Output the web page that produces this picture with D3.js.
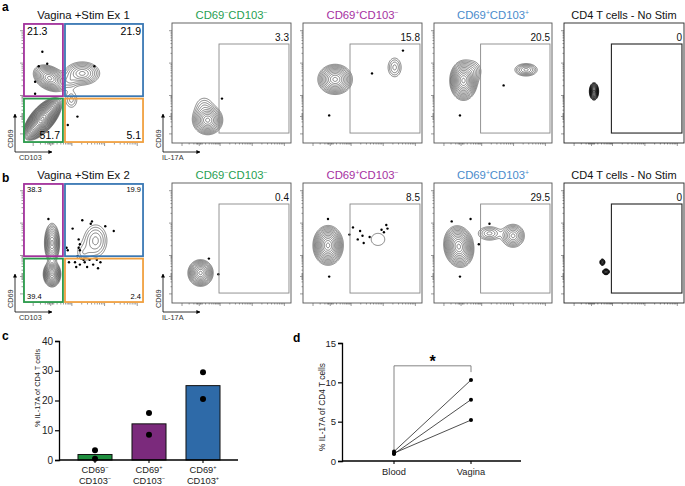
<!DOCTYPE html>
<html><head><meta charset="utf-8">
<script src="https://cdn.jsdelivr.net/npm/d3@7"></script>
<style>body{margin:0;background:#fff} svg{font-family:"Liberation Sans",Arial,sans-serif}</style>
</head><body>
<svg id="fig" width="685" height="486"></svg>
<script>
// ===================== DATA =====================
const rowTitles = ["Vagina +Stim Ex 1", "Vagina +Stim Ex 2"];
const subsetTitles = [
  [["CD69",0],["−",1],["CD103",0],["−",1]],
  [["CD69",0],["+",1],["CD103",0],["−",1]],
  [["CD69",0],["+",1],["CD103",0],["+",1]],
  [["CD4 T cells - No Stim",0]]
];
const quadA = ["21.3", "21.9", "51.7", "5.1"];
const quadB = ["38.3", "19.9", "39.4", "2.4"];
const gateA = ["3.3", "15.8", "20.5", "0"];
const gateB = ["0.4", "8.5", "29.5", "0"];

// contour blobs: [cx, cy, rx, ry, angleDeg, levels]  (normalized plot units)
const a1Blobs = [[0.16,0.20,0.22,0.10,50,20],[0.22,0.54,0.10,0.15,60,11],[0.49,0.58,0.15,0.10,0,8],[0.39,0.52,0.05,0.05,0,3],[0.40,0.36,0.05,0.07,0,3]];
const a2Blobs = [[0.30,0.19,0.125,0.13,90,11],[0.27,0.30,0.07,0.08,0,3]];
const a3Blobs = [[0.27,0.53,0.13,0.15,90,11],[0.77,0.63,0.06,0.085,0,4]];
const a4Blobs = [[0.25,0.52,0.12,0.17,0,13],[0.33,0.60,0.07,0.08,0,4],[0.78,0.61,0.10,0.055,0,6]];
const a5Blobs = [[0.25,0.43,0.04,0.075,0,9]];
const b1Blobs = [[0.24,0.50,0.065,0.17,0,10],[0.24,0.24,0.075,0.11,0,12],[0.60,0.52,0.10,0.14,0,5],[0.50,0.42,0.05,0.06,0,2]];
const b2Blobs = [[0.24,0.25,0.11,0.115,0,11]];
const b3Blobs = [[0.21,0.48,0.13,0.17,0,13],[0.63,0.53,0.09,0.08,0,1]];
const b4Blobs = [[0.21,0.47,0.13,0.18,10,13],[0.47,0.58,0.10,0.06,0,5],[0.67,0.56,0.10,0.10,0,8]];
const b5Blobs = [[0.32,0.34,0.022,0.028,0,6],[0.35,0.26,0.03,0.025,0,7]];

// outlier events: [x, y]
const a1Dots = [[0.16,0.76],[0.13,0.64],[0.20,0.66],[0.10,0.51],[0.10,0.41],[0.59,0.64],[0.45,0.22],[0.37,0.15]];
const a2Dots = [[0.42,0.37]];
const a3Dots = [[0.58,0.58],[0.84,0.77],[0.22,0.23]];
const a4Dots = [[0.22,0.23],[0.59,0.48]];
const a5Dots = [];
const b1Dots = [[0.21,0.70],[0.41,0.62],[0.49,0.69],[0.57,0.68],[0.56,0.66],[0.68,0.64],[0.75,0.60],[0.46,0.53],[0.47,0.49],[0.46,0.46],[0.47,0.44],[0.36,0.46],[0.37,0.44],[0.45,0.39],[0.48,0.37],[0.38,0.34],[0.43,0.34],[0.50,0.36],[0.55,0.36],[0.61,0.36],[0.53,0.30],[0.58,0.32],[0.47,0.32],[0.44,0.30],[0.62,0.29],[0.64,0.34],[0.51,0.34]];
const b2Dots = [[0.31,0.37],[0.39,0.24]];
const b3Dots = [[0.21,0.70],[0.22,0.22],[0.42,0.63],[0.39,0.57],[0.46,0.53],[0.48,0.60],[0.50,0.56],[0.51,0.50],[0.56,0.55],[0.66,0.61],[0.70,0.65],[0.71,0.62],[0.68,0.59]];
const b4Dots = [[0.15,0.68],[0.31,0.70],[0.47,0.66],[0.38,0.49],[0.22,0.22]];
const b5Dots = [];

const flowMajorTicks = [0.08, 0.225, 0.40, 0.67, 0.94];

// panel c
const cCategories = ["CD69−CD103−", "CD69+CD103−", "CD69+CD103+"];
const cLabelLines = [[["CD69","−"],["CD103","−"]],[["CD69","+"],["CD103","−"]],[["CD69","+"],["CD103","+"]]];
const cMeans = [1.85, 12.15, 25.0];
const cPoints = [[3.3, 0.4], [15.8, 8.5], [20.5, 29.5]];
const cTicks = [0, 10, 20, 30, 40];

// panel d
const dGroups = ["Blood", "Vagina"];
const dBlood = [1.2, 0.9, 1.0];
const dVagina = [10.3, 7.8, 5.2];
const dTicks = [0, 5, 10, 15];
const dBracket = [1.3, 12.1, 11.3]; // left leg bottom, top, right leg bottom

// ===================== LAYOUT / STYLE =====================
const svg = d3.select("#fig");
const colX = [23, 172, 303, 434, 564];
const colW = [121, 119, 119, 118, 120];
const rowY = [23, 183];
const rowH = 120;
const subsetColors = ["#27a052", "#a6309f", "#4a8bcb", "#111"];
const quadColors = ["#a2329c", "#3a78b4", "#2a9a4a", "#f0a040"];
const barColors = ["#1f8f3f", "#7b2a7c", "#2e6aa8"];
const L = 0.35, RES = 2, PEXP = 1.5;

svg.append("defs").append("marker").attr("id","arr").attr("viewBox","0 0 10 10")
  .attr("refX",9).attr("refY",5).attr("markerWidth",5).attr("markerHeight",5)
  .attr("orient","auto").append("path").attr("d","M0,0L10,5L0,10z").attr("fill","#000");

function dens(blobs, nx, ny) {
  let f = 0;
  for (const [cx, cy, rx, ry, ang, n] of blobs) {
    const a = ang * Math.PI / 180, dx = nx - cx, dy = ny - cy;
    const u = (dx * Math.cos(a) + dy * Math.sin(a)) / rx;
    const v = (-dx * Math.sin(a) + dy * Math.cos(a)) / ry;
    f += Math.exp(L * n * (1 - Math.pow(u * u + v * v, PEXP / 2)));
  }
  return f;
}

function addText(g, parts, x, y, size, color, anchor) {
  const t = g.append("text").attr("x", x).attr("y", y).attr("font-size", size)
    .attr("fill", color).attr("text-anchor", anchor || "middle");
  let prevSup = false;
  parts.forEach(([s, sup]) => {
    const ts = t.append("tspan").text(s);
    if (sup) ts.attr("font-size", size * 0.6).attr("dy", -size * 0.38);
    else if (prevSup) ts.attr("dy", size * 0.38);
    prevSup = !!sup;
  });
  return t;
}

let clipId = 0;
function flowPlot(x0, y0, w, h, blobs, dots, dark) {
  const xs = d3.scaleLinear().domain([0, 1]).range([x0, x0 + w]);
  const ys = d3.scaleLinear().domain([0, 1]).range([y0 + h, y0]);
  const gw = Math.round(w * RES), gh = Math.round(h * RES);
  const vals = new Float64Array(gw * gh);
  for (let j = 0; j < gh; j++) for (let i = 0; i < gw; i++) {
    vals[j * gw + i] = dens(blobs, xs.invert(x0 + (i + 0.5) / RES), ys.invert(y0 + (j + 0.5) / RES));
  }
  const maxV = d3.max(vals);
  const ths = d3.range(0, 80).map(k => Math.exp(L * (k + 0.5))).filter(t => t < maxV);
  const conts = d3.contours().size([gw, gh]).thresholds(ths)(vals);
  const path = d3.geoPath(d3.geoIdentity().scale(1 / RES).translate([x0, y0]));
  const id = "clip" + (clipId++);
  svg.append("clipPath").attr("id", id).append("rect").attr("x", x0).attr("y", y0).attr("width", w).attr("height", h);
  const g = svg.append("g");
  g.append("g").attr("clip-path", `url(#${id})`).selectAll("path").data(conts).join("path")
    .attr("d", path).attr("fill", "none").attr("stroke", dark ? "#000" : "#303030")
    .attr("stroke-width", dark ? 0.9 : 0.6);
  g.selectAll("circle").data(dots).join("circle")
    .attr("cx", d => xs(d[0])).attr("cy", d => ys(d[1])).attr("r", 1.2).attr("fill", "#000");
  // log-like ticks
  const minor = [];
  for (let k = 1; k < flowMajorTicks.length - 1; k++) {
    const a = flowMajorTicks[k], b = flowMajorTicks[k + 1];
    for (let m = 2; m < 10; m++) minor.push(a + (b - a) * Math.log10(m));
  }
  [0.2, 0.21, 0.215, 0.235, 0.24, 0.25, 0.14, 0.18].forEach(v => minor.push(v));
  const tickG = (axis, tr) => {
    const gg = g.append("g").attr("transform", tr).call(axis);
    gg.select(".domain").remove();
    gg.selectAll("line").attr("stroke", "#555").attr("stroke-width", 0.6);
  };
  tickG(d3.axisLeft(ys).tickValues(flowMajorTicks).tickSize(3).tickFormat(""), `translate(${x0},0)`);
  tickG(d3.axisLeft(ys).tickValues(minor).tickSize(1.5).tickFormat(""), `translate(${x0},0)`);
  tickG(d3.axisBottom(xs).tickValues(flowMajorTicks).tickSize(3).tickFormat(""), `translate(0,${y0 + h})`);
  tickG(d3.axisBottom(xs).tickValues(minor).tickSize(1.5).tickFormat(""), `translate(0,${y0 + h})`);
  return { xs, ys, g };
}

const allBlobs = [[a1Blobs, a2Blobs, a3Blobs, a4Blobs, a5Blobs], [b1Blobs, b2Blobs, b3Blobs, b4Blobs, b5Blobs]];
const allDots = [[a1Dots, a2Dots, a3Dots, a4Dots, a5Dots], [b1Dots, b2Dots, b3Dots, b4Dots, b5Dots]];
const quads = [quadA, quadB];
const gates = [gateA, gateB];
const quadRects = [[0.008, 0.39, 0.33, 0.992], [0.347, 0.39, 0.992, 0.992], [0.008, 0.008, 0.33, 0.37], [0.347, 0.008, 0.992, 0.37]];
const gateRect = [0.395, 0.083, 0.983, 0.825];

[0, 1].forEach(r => {
  const y0 = rowY[r];
  svg.append("text").attr("x", 2).attr("y", r === 0 ? 11 : 182).attr("font-size", 12)
    .attr("font-weight", "bold").text(r === 0 ? "a" : "b");
  for (let c = 0; c < 5; c++) {
    const x0 = colX[c], w = colW[c];
    const { xs, ys, g } = flowPlot(x0, y0, w, rowH, allBlobs[r][c], allDots[r][c], c === 4);
    if (c === 0) {
      addText(svg, [[rowTitles[r], 0]], x0 + w / 2, y0 - 4, 11.3, "#111");
      quadRects.forEach((q, i) => {
        g.append("rect").attr("x", xs(q[0])).attr("y", ys(q[3])).attr("width", xs(q[2]) - xs(q[0]))
          .attr("height", ys(q[1]) - ys(q[3])).attr("fill", "none").attr("stroke", quadColors[i]).attr("stroke-width", 1.8);
      });
      const fs = r === 0 ? 10.5 : 7.5;
      const qv = quads[r];
      g.append("text").attr("x", x0 + 4).attr("y", y0 + (r === 0 ? 12 : 9)).attr("font-size", fs).text(qv[0]);
      g.append("text").attr("x", x0 + w - 3).attr("y", y0 + (r === 0 ? 12 : 9)).attr("font-size", fs).attr("text-anchor", "end").text(qv[1]);
      if (r === 0) g.append("text").attr("x", x0 + 37).attr("y", y0 + 116).attr("font-size", fs).attr("text-anchor", "end").text(qv[2]);
      else g.append("text").attr("x", x0 + 4).attr("y", y0 + 116).attr("font-size", fs).text(qv[2]);
      g.append("text").attr("x", x0 + w - 3).attr("y", y0 + 116).attr("font-size", fs).attr("text-anchor", "end").text(qv[3]);
    } else {
      const col = subsetColors[c - 1];
      addText(svg, subsetTitles[c - 1], x0 + w / 2, y0 - 4, c === 4 ? 11 : 11.3, col);
      g.append("rect").attr("x", x0).attr("y", y0).attr("width", w).attr("height", rowH)
        .attr("fill", "none").attr("stroke", c === 4 ? "#222" : "#555").attr("stroke-width", 0.9);
      g.append("rect").attr("x", xs(gateRect[0])).attr("y", ys(gateRect[3]))
        .attr("width", xs(gateRect[2]) - xs(gateRect[0])).attr("height", ys(gateRect[1]) - ys(gateRect[3]))
        .attr("fill", "none").attr("stroke", c === 4 ? "#222" : "#888").attr("stroke-width", c === 4 ? 1.1 : 0.9);
      g.append("text").attr("x", xs(gateRect[2])).attr("y", ys(gateRect[3]) - 3).attr("font-size", 10)
        .attr("text-anchor", "end").attr("fill", "#111").text(gates[r][c - 1]);
    }
    if (c < 2) {
      const ax = c === 0 ? 15 : 163, ay = y0 + 129;
      svg.append("line").attr("x1", ax).attr("y1", ay).attr("x2", ax).attr("y2", ay - 38)
        .attr("stroke", "#000").attr("stroke-width", 0.8).attr("marker-end", "url(#arr)");
      svg.append("line").attr("x1", ax).attr("y1", ay).attr("x2", ax + 37).attr("y2", ay)
        .attr("stroke", "#000").attr("stroke-width", 0.8).attr("marker-end", "url(#arr)");
      svg.append("text").attr("transform", `translate(${ax - 2},${ay - 4}) rotate(-90)`)
        .attr("font-size", 7.3).attr("fill", "#333").text("CD69");
      svg.append("text").attr("x", ax + (c === 0 ? 4 : -1)).attr("y", ay + 7.5)
        .attr("font-size", 7.3).attr("fill", "#333").text(c === 0 ? "CD103" : "IL-17A");
    }
  }
});

// ===================== PANEL C =====================
const cx = d3.scaleBand().domain(cCategories).range([68, 230]).paddingInner(0.37).paddingOuter(0.185);
const cy = d3.scaleLinear().domain([0, 40]).range([460, 341]);
svg.append("text").attr("x", 2).attr("y", 340).attr("font-size", 12).attr("font-weight", "bold").text("c");
svg.append("g").selectAll("rect").data(cMeans).join("rect")
  .attr("x", (d, i) => cx(cCategories[i])).attr("y", d => cy(d))
  .attr("width", cx.bandwidth()).attr("height", d => cy(0) - cy(d))
  .attr("fill", (d, i) => barColors[i]).attr("stroke", "#111").attr("stroke-width", 1);
const cAx = svg.append("g").attr("transform", "translate(59,0)")
  .call(d3.axisLeft(cy).tickValues(cTicks).tickSize(4).tickPadding(2));
cAx.select(".domain").attr("stroke-width", 1.3);
cAx.selectAll("line").attr("stroke-width", 1.2);
cAx.selectAll("text").attr("font-size", 10).attr("font-family", null).attr("fill", "#222");
svg.append("line").attr("x1", 59).attr("x2", 238).attr("y1", cy(0)).attr("y2", cy(0)).attr("stroke", "#000").attr("stroke-width", 1.3);
cCategories.forEach((cat, i) => {
  const xm = cx(cat) + cx.bandwidth() / 2;
  svg.append("line").attr("x1", xm).attr("x2", xm).attr("y1", cy(0)).attr("y2", cy(0) + 3).attr("stroke", "#000").attr("stroke-width", 1.1);
  cLabelLines[i].forEach((ln, k) => addText(svg, [[ln[0], 0], [ln[1], 1]], xm, 473 + k * 11, 9.3, "#222"));
  svg.append("g").selectAll("circle").data(cPoints[i]).join("circle")
    .attr("cx", xm).attr("cy", d => cy(d)).attr("r", 3).attr("fill", "#000");
});
svg.append("text").attr("transform", "translate(40,388) rotate(-90)").attr("text-anchor", "middle")
  .attr("font-size", 7.4).attr("fill", "#222").text("% IL-17A of CD4 T cells");

// ===================== PANEL D =====================
const dx = d3.scalePoint().domain(dGroups).range([394, 471]);
const dy = d3.scaleLinear().domain([0, 15]).range([461, 343]);
svg.append("text").attr("x", 293).attr("y", 342).attr("font-size", 12).attr("font-weight", "bold").text("d");
const dAx = svg.append("g").attr("transform", "translate(342,0)")
  .call(d3.axisLeft(dy).tickValues(dTicks).tickSize(4).tickPadding(2));
dAx.select(".domain").attr("stroke-width", 1.3);
dAx.selectAll("line").attr("stroke-width", 1.2);
dAx.selectAll("text").attr("font-size", 9.5).attr("font-family", null).attr("fill", "#222");
svg.append("line").attr("x1", 342).attr("x2", 521).attr("y1", dy(0)).attr("y2", dy(0)).attr("stroke", "#000").attr("stroke-width", 1.3);
dGroups.forEach(gname => {
  svg.append("line").attr("x1", dx(gname)).attr("x2", dx(gname)).attr("y1", dy(0)).attr("y2", dy(0) + 3).attr("stroke", "#000").attr("stroke-width", 1.1);
  svg.append("text").attr("x", dx(gname)).attr("y", 475).attr("text-anchor", "middle").attr("font-size", 9.3).attr("fill", "#222").text(gname);
});
svg.append("path").attr("d", `M${dx("Blood")},${dy(dBracket[0])}V${dy(dBracket[1])}H${dx("Vagina")}V${dy(dBracket[2])}`)
  .attr("fill", "none").attr("stroke", "#777").attr("stroke-width", 0.9);
svg.append("text").attr("x", (dx("Blood") + dx("Vagina")) / 2).attr("y", 367).attr("text-anchor", "middle")
  .attr("font-size", 16).attr("font-weight", "bold").text("*");
dBlood.forEach((b, i) => {
  svg.append("line").attr("x1", dx("Blood")).attr("y1", dy(b)).attr("x2", dx("Vagina")).attr("y2", dy(dVagina[i]))
    .attr("stroke", "#222").attr("stroke-width", 0.8);
});
svg.append("g").selectAll("circle").data(dBlood.map(v => ["Blood", v]).concat(dVagina.map(v => ["Vagina", v]))).join("circle")
  .attr("cx", d => dx(d[0])).attr("cy", d => dy(d[1])).attr("r", 2).attr("fill", "#000");
svg.append("text").attr("transform", "translate(325,407) rotate(-90)").attr("text-anchor", "middle")
  .attr("font-size", 8.3).attr("fill", "#222").text("% IL-17A of CD4 T cells");
</script>
</body></html>
